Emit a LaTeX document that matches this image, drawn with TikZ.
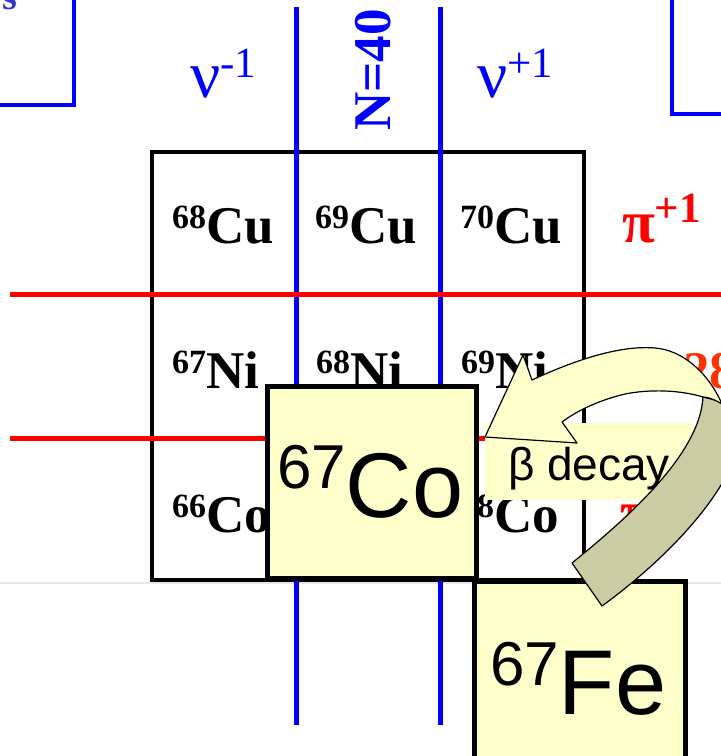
\documentclass[tikz,border=0pt]{standalone}
\usepackage{fontspec}
\setmainfont{Liberation Serif}
\newfontfamily\arialf{Liberation Sans}
\definecolor{pyellow}{HTML}{FFFFCC}
\definecolor{pband}{RGB}{204,204,164}
\definecolor{pblue}{HTML}{0000FF}
\definecolor{pred}{HTML}{FF0000}
\definecolor{porange}{HTML}{FF3300}
\definecolor{sblue}{HTML}{3333CC}
\definecolor{pgrey}{HTML}{E6E6E6}
\newcommand{\fs}[1]{\fontsize{#1}{#1}\selectfont}
\newcommand{\iso}[2]{{\fs{34}\raisebox{15pt}{#1}}{\fs{53}#2}}
\newcommand{\bigiso}[2]{{\fs{62}\raisebox{29pt}{#1}}{\fs{92}#2}}
\begin{document}
\begin{tikzpicture}[x=1pt,y=-1pt,
  every node/.style={inner sep=0pt,outer sep=0pt},
  cell/.style={anchor=base west,font=\bfseries},
  bluebox/.style={draw=pblue,line width=3.5pt},
  nline/.style={draw=pblue,line width=5pt},
  zline/.style={draw=pred,line width=5pt},
  yellowbox/.style={draw=black,fill=pyellow,line width=5pt},
  arrowface/.style={draw=black,line width=1.2pt,line join=round}]
\useasboundingbox (0,0) rectangle (721,756);
\clip (0,0) rectangle (721,756);
% faint slide edge
\draw[pgrey,line width=2pt] (0,583) -- (721,583);
% partial boxes at top
\draw[bluebox] (-5,105) -- (74,105) -- (74,-5);
\draw[bluebox] (730,114) -- (672,114) -- (672,-5);
\node[anchor=base west,text=sblue,font=\bfseries\fs{38}] (s) at (2,9) {s};
% grid
\draw[black,line width=4pt] (152,152) rectangle (584,580);
\coordinate (n1t) at (296,7); \coordinate (n1b) at (296,725);
\coordinate (n2t) at (440,7); \coordinate (n2b) at (440,725);
\draw[nline] (n1t) -- (n1b);
\draw[nline] (n2t) -- (n2b);
\coordinate (z1l) at (10,294); \coordinate (z1r) at (721,294);
\coordinate (z2l) at (10,438); \coordinate (z2r) at (721,438);
\draw[zline] (z1l) -- (z1r);
\draw[zline] (z2l) -- (z2r);
% labels
\node[anchor=base west,text=pblue] (num) at (190,97) {\fs{67}ν\fs{43}\raisebox{20pt}{-1}};
\node[anchor=base west,text=pblue] (nup) at (477,97) {\fs{67}ν\fs{43}\raisebox{20pt}{+1}};
\node[rotate=90,anchor=base,text=pblue,font=\bfseries\fs{53}] (n40) at (390,70) {N=40};
\node[anchor=base west,text=pred,font=\bfseries] (pip) at (622,242) {\fs{60}π\fs{43}\raisebox{20pt}{+1}};
\node[anchor=base west,text=porange,font=\bfseries\fs{53}] (z28) at (683,388) {28};
\node[anchor=base west,text=pred,font=\bfseries\fs{60}] (pim) at (620,532) {π};
% cells
\node[cell] (cu68) at (172,243) {\iso{68}{Cu}};
\node[cell] (cu69) at (315,243) {\iso{69}{Cu}};
\node[cell] (cu70) at (460,243) {\iso{70}{Cu}};
\node[cell] (ni67) at (172,388) {\iso{67}{Ni}};
\node[cell] (ni68) at (316,388) {\iso{68}{Ni}};
\node[cell] (ni69) at (461,388) {\iso{69}{Ni}};
\node[cell] (co66) at (172,532) {\iso{66}{Co}};
\node[cell] (co68) at (460,532) {\iso{68}{Co}};
% highlighted nuclei
\draw[yellowbox] (267,386) rectangle (476,578);
\node[anchor=base west,font=\arialf] (co67) at (277,517) {\bigiso{67}{Co}};
\draw[yellowbox] (474,581) rectangle (685,780);
\node[anchor=base west,font=\arialf] (fe67) at (490,714) {\bigiso{67}{Fe}};
% beta decay label
\fill[pyellow] (485,423) rectangle (693,500);
\node[anchor=base west,font=\arialf\fs{46}] (beta) at (508,480) {β decay};
% curved arrow: back face
\draw[arrowface,fill=pband] (703,397) -- (735,405) -- (742,430)
  .. controls (735,490) and (665,560) .. (602,606) -- (572,563)
  .. controls (625,520) and (700,455) .. (703,397) -- cycle;
% curved arrow: front face with head
\draw[arrowface,fill=pyellow] (485,437) -- (523,355) -- (532,380)
  .. controls (575,360) and (620,345) .. (655,348)
  .. controls (682,350) and (708,372) .. (722,404)
  .. controls (712,398) and (706,397) .. (703,397)
  .. controls (680,390) and (650,389) .. (625,394)
  .. controls (600,400) and (578,410) .. (562,422)
  -- (577,443) -- cycle;
\end{tikzpicture}
\end{document}
